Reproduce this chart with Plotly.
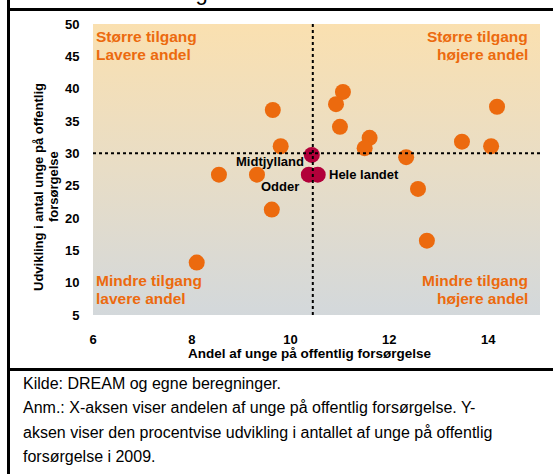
import plotly.graph_objects as go

# Kommuner (orange) - andel på offentlig forsørgelse / udvikling i antal
andel = [9.64, 9.80, 8.55, 9.32, 9.62, 8.10, 11.06, 10.92, 11.00, 11.60,
         11.50, 12.34, 12.58, 14.18, 13.47, 14.06, 12.76]
udvikling = [36.7, 31.1, 26.7, 26.7, 21.3, 13.1, 39.5, 37.6, 34.1, 32.4,
             30.8, 29.4, 24.5, 37.2, 31.8, 31.1, 16.5]

# Fremhævede punkter
navne = ["Midtjylland", "Odder", "Hele landet"]
andel_fremh = [10.43, 10.37, 10.55]
udvikling_fremh = [29.75, 26.7, 26.7]

# Skillelinjer
x_skille = 10.45
y_skille = 30

x_ticks = [6, 8, 10, 12, 14]
y_ticks = [5, 10, 15, 20, 25, 30, 35, 40, 45, 50]

W, H = 553, 474
L, R, T, B = 93, 13, 24, 159
ORANGE = "#EC6A0E"
RED = "#B2003A"
BOLD = "Liberation Sans"


def px_x(px):
    return (px - L) / (W - L - R)


def px_y(py):
    return (H - B - py) / (H - T - B)


fig = go.Figure()

# baggrund med farveovergang
fig.add_trace(go.Scatter(
    x=[6, 15.05, 15.05, 6, 6], y=[5, 5, 50, 50, 5],
    mode="lines", line=dict(width=0), fill="toself",
    fillgradient=dict(type="vertical", start=5, stop=50,
                      colorscale=[[0, "#D3D8DB"], [0.5, "#E8DDC6"], [1, "#FAE0B0"]]),
    hoverinfo="skip", showlegend=False,
))

fig.add_trace(go.Scatter(
    x=andel, y=udvikling, mode="markers",
    marker=dict(size=16, color=ORANGE), showlegend=False,
))
fig.add_trace(go.Scatter(
    x=andel_fremh, y=udvikling_fremh, mode="markers",
    marker=dict(size=16, color=RED), showlegend=False,
))

shapes = [
    dict(type="line", xref="x", yref="y", x0=x_skille, x1=x_skille, y0=5, y1=50,
         line=dict(color="black", width=2, dash="dot"), layer="above"),
    dict(type="line", xref="x", yref="y", x0=6, x1=15.05, y0=y_skille, y1=y_skille,
         line=dict(color="black", width=2, dash="dot"), layer="above"),
    # rammer
    dict(type="line", xref="paper", yref="paper", x0=px_x(8.5), x1=px_x(8.5),
         y0=px_y(0), y1=px_y(H), line=dict(color="black", width=3)),
    dict(type="line", xref="paper", yref="paper", x0=px_x(7), x1=px_x(W),
         y0=px_y(9.5), y1=px_y(9.5), line=dict(color="black", width=3)),
    dict(type="line", xref="paper", yref="paper", x0=px_x(7), x1=px_x(W),
         y0=px_y(369.5), y1=px_y(369.5), line=dict(color="black", width=3)),
]

ann = []
# punktetiketter
offsets = {"Midtjylland": ("right", -6, -7),
           "Odder": ("right", -8, -12),
           "Hele landet": ("left", 9, 0)}
for n, xv, yv in zip(navne, andel_fremh, udvikling_fremh):
    anchor, dx, dy = offsets[n]
    ann.append(dict(x=xv, y=yv, text=n, showarrow=False, xanchor=anchor,
                    yanchor="middle", xshift=dx, yshift=dy,
                    font=dict(family=BOLD, size=13, color="black", weight="bold")))

# kvadranttekster
kvadrant = [
    ("Større tilgang", 94, 37, "left"), ("Lavere andel", 94, 55, "left"),
    ("Større tilgang", 530, 37, "right"), ("højere andel", 530, 55, "right"),
    ("Mindre tilgang", 94, 280, "left"), ("lavere andel", 94, 298, "left"),
    ("Mindre tilgang", 530, 280, "right"), ("højere andel", 530, 298, "right"),
]
for txt, px, py, anchor in kvadrant:
    ann.append(dict(xref="paper", yref="paper", x=px_x(px), y=px_y(py), text=txt,
                    showarrow=False, xanchor=anchor, yanchor="middle",
                    font=dict(family=BOLD, size=15.5, color=ORANGE, weight="bold")))

# aksetitler
ann.append(dict(xref="paper", yref="paper", x=px_x(310), y=px_y(353),
                text="Andel af unge på offentlig forsørgelse", showarrow=False,
                xanchor="center", yanchor="middle",
                font=dict(family=BOLD, size=13.5, color="black", weight="bold")))
for txt, px in [("Udvikling i antal unge på offentlig", 38), ("forsørgelse", 53)]:
    ann.append(dict(xref="paper", yref="paper", x=px_x(px), y=px_y(187),
                    text=txt, showarrow=False,
                    xanchor="center", yanchor="middle", textangle=-90,
                    font=dict(family=BOLD, size=13, color="black", weight="bold")))

# afskåret overskrift
ann.append(dict(xref="paper", yref="paper", x=px_x(21), y=px_y(7),
                text="andel af befolkningen i 2009", showarrow=False,
                xanchor="left", yanchor="bottom",
                font=dict(family="Liberation Sans", size=22, color="black")))

# kilde og anmærkning
noter = [
    "Kilde: DREAM og egne beregninger.",
    "Anm.: X-aksen viser andelen af unge på offentlig forsørgelse. Y-",
    "aksen viser den procentvise udvikling i antallet af unge på offentlig",
    "forsørgelse i 2009.",
]
for i, linje in enumerate(noter):
    ann.append(dict(xref="paper", yref="paper", x=px_x(21), y=px_y(383 + 24.5 * i),
                    text=linje, showarrow=False, xanchor="left", yanchor="middle",
                    font=dict(family="Liberation Sans", size=16, color="black")))

fig.update_layout(
    width=W, height=H,
    margin=dict(l=L, r=R, t=T, b=B),
    paper_bgcolor="white", plot_bgcolor="white",
    shapes=shapes, annotations=ann,
    xaxis=dict(range=[6, 15.05], tickvals=x_ticks, showgrid=False, zeroline=False,
               showline=False, ticks="outside", ticklen=12, tickcolor="rgba(0,0,0,0)",
               tickfont=dict(family=BOLD, size=13, color="black", weight="bold")),
    yaxis=dict(range=[5, 50], tickvals=y_ticks, showgrid=False, zeroline=False,
               showline=False, ticks="outside", ticklen=10, tickcolor="rgba(0,0,0,0)",
               tickfont=dict(family=BOLD, size=13, color="black", weight="bold")),
)

fig.write_html("out.html", config={"displayModeBar": False},
               post_script="document.body.style.margin='0';")
